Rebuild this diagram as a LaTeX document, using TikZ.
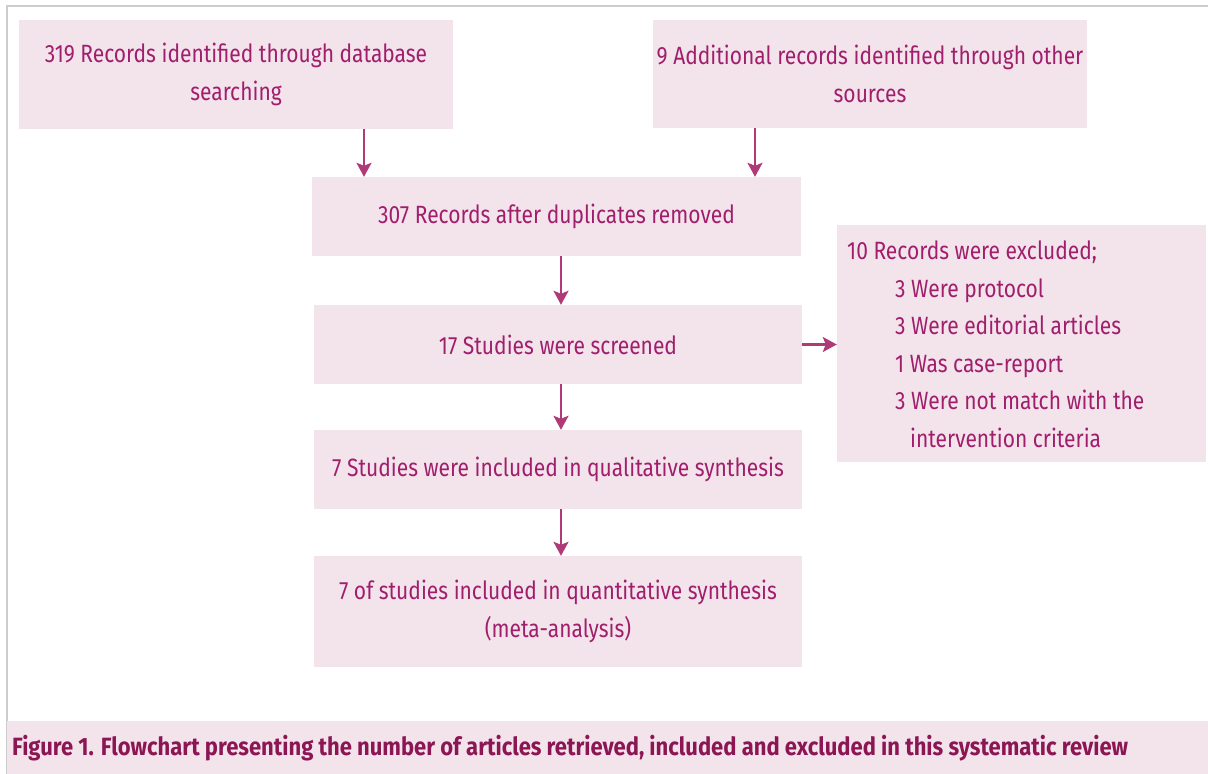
\documentclass[tikz,border=0pt]{standalone}
\usepackage{fontspec}
\setmainfont{Fira Sans}[FakeStretch=0.84]
\newfontfamily\capfont{Fira Sans}[FakeStretch=0.88]
\usetikzlibrary{arrows.meta}
\definecolor{boxfill}{RGB}{243,228,236}
\definecolor{txt}{RGB}{160,30,108}
\definecolor{arrowc}{RGB}{176,58,120}
\definecolor{captxt}{RGB}{140,22,84}
\definecolor{framec}{RGB}{205,205,205}
\tikzset{
  flowbox/.style={fill=boxfill, draw=none, text=txt, align=center, inner sep=0pt,
    font=\fontsize{25}{38}\selectfont},
  arr/.style={draw=arrowc, line width=2.4pt, -{Stealth[length=14pt,width=15pt,inset=3pt]}}
}
\begin{document}
\begin{tikzpicture}[x=1pt,y=-1pt]
\useasboundingbox (0,0) rectangle (1208,774);
% outer frame
\draw[framec, line width=1.5pt] (7,774) -- (7,6) -- (1208,6);
% caption band
\fill[boxfill] (7,721) rectangle (1208,774);
\node[anchor=west, text=captxt, inner sep=0pt, font=\capfont\fontsize{25}{28}\selectfont\bfseries] (cap) at (12,748)
  {Figure 1. Flowchart presenting the number of articles retrieved, included and excluded in this systematic review};
% boxes
\node[flowbox, minimum width=434pt, minimum height=109pt] (A) at (236,74.5)
  {319 Records identified through database\\searching};
\node[flowbox, minimum width=434pt, minimum height=108pt] (B) at (870,74)
  {9 Additional records identified through other\\sources};
\node[flowbox, minimum width=489pt, minimum height=79pt] (C) at (556.5,216.5)
  {307 Records after duplicates removed};
\node[flowbox, minimum width=488pt, minimum height=79pt] (E) at (558,344.5)
  {17 Studies were screened};
\node[flowbox, minimum width=488pt, minimum height=79pt] (F) at (558,469.5)
  {7 Studies were included in qualitative synthesis};
\node[flowbox, minimum width=488pt, minimum height=111pt] (G) at (558,611.5)
  {7 of studies included in quantitative synthesis\\(meta-analysis)};
\node[flowbox, minimum width=369pt, minimum height=237pt] (D) at (1021.5,343.5) {};
\node[anchor=north west, text=txt, align=left, inner sep=0pt,
  font=\fontsize{25}{37.5}\selectfont] (Dtxt) at (847,241)
  {10 Records were excluded;\\
   \hspace*{48pt}3 Were protocol\\
   \hspace*{48pt}3 Were editorial articles\\
   \hspace*{48pt}1 Was case-report\\
   \hspace*{48pt}3 Were not match with the\\
   \hspace*{63pt}intervention criteria};
% arrow columns
\coordinate (xa) at (364,0);
\coordinate (xb) at (755,0);
\coordinate (xc) at (561,0);
% connectors
\draw[arr] (A.south -| xa) -- (C.north -| xa);
\draw[arr] (B.south -| xb) -- (C.north -| xb);
\draw[arr] (C.south -| xc) -- (E.north -| xc);
\draw[arr] (E.south -| xc) -- (F.north -| xc);
\draw[arr] (F.south -| xc) -- (G.north -| xc);
\draw[arr] (E.east) -- (D.west |- E.east);
\end{tikzpicture}
\end{document}
